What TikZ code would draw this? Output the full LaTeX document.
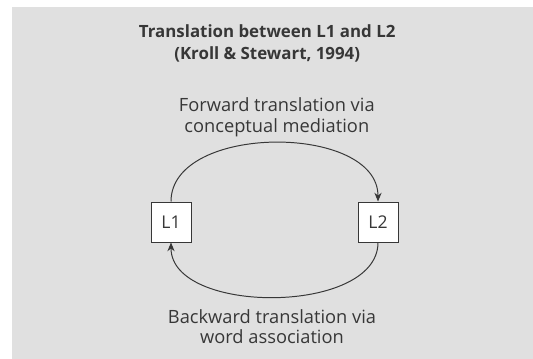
\documentclass[tikz,border=0pt]{standalone}
\usepackage{fontspec}
\setmainfont{Open Sans}
\usepackage{tikz}
\usetikzlibrary{arrows.meta,positioning}
\definecolor{panel}{RGB}{224,224,224}
\definecolor{ink}{RGB}{55,55,55}
\tikzset{
  lang/.style={draw=ink,fill=white,line width=0.7pt,minimum size=1cm,inner sep=0pt,text=ink,font=\fontsize{12.5}{14}\selectfont},
  label/.style={align=center,text=ink,font=\fontsize{13}{14.4}\selectfont},
  route/.style={draw=ink,line width=0.7pt,-{Stealth[length=2.2mm,width=1.8mm]}}
}
\begin{document}
\begin{tikzpicture}
  % Rahmen
  \useasboundingbox (0,0) rectangle (13.325,-8.975);
  \fill[panel] (0.3,-0.175) rectangle (13.325,-8.975);
  % Titel
  \node[label,font=\bfseries\fontsize{12}{15.6}\selectfont] (title) at (6.68,-1.09)
    {Translation between L1 and L2\\(Kroll \& Stewart, 1994)};
  % Sprachen
  \node[lang] (L1) at (4.275,-5.55) {L1};
  \node[lang] (L2) at (9.45,-5.55) {L2};
  % Wege
  \draw[route] (L1.north) to[out=90,in=90,looseness=0.97] (L2.north);
  \draw[route] (L2.south) to[out=-90,in=-90,looseness=0.9] (L1.south);
  \node[label] (fwd) at (6.92,-2.93) {Forward translation via\\conceptual mediation};
  \node[label] (bwd) at (6.8,-8.17) {Backward translation via\\word association};
\end{tikzpicture}
\end{document}
